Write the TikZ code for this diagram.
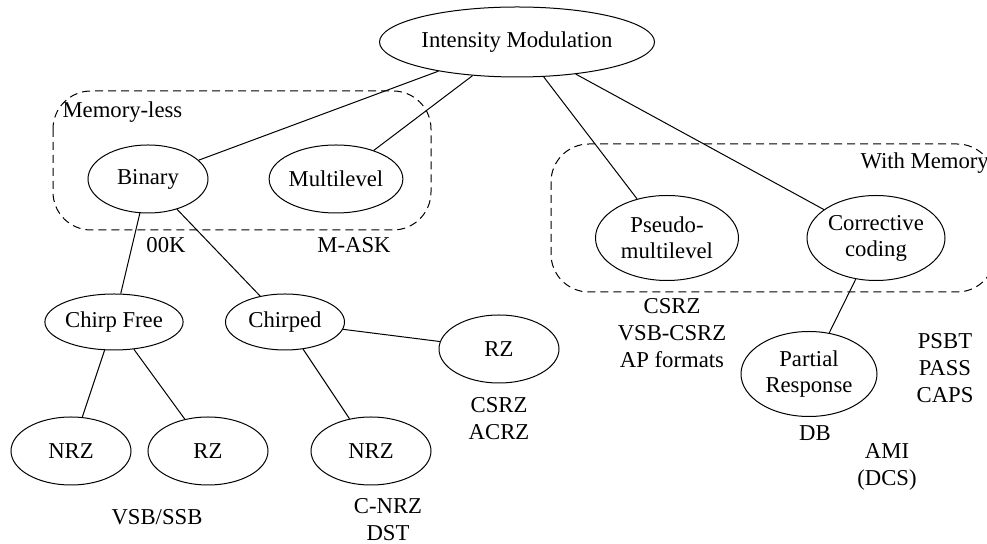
\documentclass[tikz,border=0pt]{standalone}
\usepackage{fontspec}
\setmainfont{Liberation Serif}
\usetikzlibrary{shapes.geometric}

\tikzset{
  fmt/.style={ellipse, draw, line width=0.5pt, inner sep=0pt, align=center,
    font=\fontsize{11.35}{13}\selectfont},
  lbl/.style={inner sep=0pt, align=center, font=\fontsize{11.35}{13.6}\selectfont},
  grp/.style={draw, dash pattern=on 4pt off 2.5pt, rounded corners=19pt, line width=0.5pt},
}

\begin{document}
\begin{tikzpicture}[x=0.5pt,y=-0.5pt,line width=0.5pt]
  \useasboundingbox (0,0) rectangle (987,544);
  \clip (0,0) rectangle (987,544);

  \node[fmt, minimum width=137.5pt, minimum height=35pt] (im) at (517,42) {Intensity Modulation};
  \node[fmt, minimum width=60pt, minimum height=34pt] (bin) at (148,179) {Binary};
  \node[fmt, minimum width=60.5pt, minimum height=34pt] (ml) at (336,179) {Multilevel};
  \node[fmt, minimum width=71.5pt, minimum height=42.5pt] (pm) at (667,238) {Pseudo-\\multilevel};
  \node[fmt, minimum width=69pt, minimum height=42.5pt] (cc) at (876,238) {Corrective\\coding};
  \node[fmt, minimum width=60.5pt, minimum height=28pt] (cf) at (114,322) {Chirp Free};
  \node[fmt, minimum width=59.5pt, minimum height=28pt] (chp) at (285,322) {Chirped};
  \node[fmt, minimum width=60pt, minimum height=34pt] (rz2) at (499,349) {RZ};
  \node[fmt, minimum width=60pt, minimum height=34pt] (nrz1) at (71,451) {NRZ};
  \node[fmt, minimum width=60pt, minimum height=34pt] (rz1) at (208,451) {RZ};
  \node[fmt, minimum width=60pt, minimum height=34pt] (nrz2) at (371,451) {NRZ};
  \node[fmt, minimum width=68pt, minimum height=42.5pt] (pr) at (809,374) {Partial\\Response};

  \draw[grp] (53,91) rectangle (431,230);
  \draw[grp] (551,144) rectangle (995,292);
  \node[lbl, anchor=west] (gml) at (62,112) {Memory-less};
  \node[lbl, anchor=west] (gwm) at (860,163) {With Memory};

  \node[lbl] (l1) at (166,245) {00K};
  \node[lbl] (l2) at (354,245) {M-ASK};
  \node[lbl] (l3) at (157,517) {VSB/SSB};
  \node[lbl] (l4) at (388,520) {C-NRZ\\DST};
  \node[lbl] (l5) at (499,419) {CSRZ\\ACRZ};
  \node[lbl] (l6) at (672,333) {CSRZ\\VSB-CSRZ\\AP formats};
  \node[lbl] (l7) at (815,433) {DB};
  \node[lbl] (l8) at (887,467) {AMI\\(DCS)};
  \node[lbl] (l9) at (945,368) {PSBT\\PASS\\CAPS};

  \draw (im) -- (bin) (im) -- (ml) (im) -- (pm) (im) -- (cc)
        (bin) -- (cf) (bin) -- (chp)
        (cf) -- (nrz1) (cf) -- (rz1)
        (chp) -- (nrz2) (chp) -- (rz2)
        (cc) -- (pr);
\end{tikzpicture}
\end{document}
